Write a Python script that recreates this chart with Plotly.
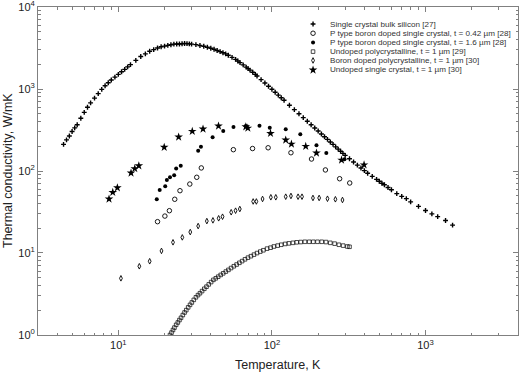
import plotly.graph_objects as go

# ---------------- data ----------------
# Single crystal bulk silicon [27]
si_T = [4.4, 4.6, 4.8, 5.0, 5.2, 5.4, 5.7, 6.0, 6.3, 6.6, 7.0, 7.4, 7.8, 8.2, 8.6, 9.0, 9.5,
        10, 10.5, 11, 11.5, 12, 13, 14, 15, 16, 17, 18, 19, 20, 21, 22, 23, 24, 25, 26, 27, 28, 29, 30,
        32, 34, 36, 38, 40, 42, 44, 46, 48, 50, 52, 55, 58, 60, 62, 65, 68, 70, 72, 75, 78, 80,
        85, 90, 95, 100, 105, 110, 115, 120, 130, 140, 150, 160, 170, 180, 190, 200, 210, 220,
        230, 240, 250, 260, 270, 280, 290, 300, 320, 340, 360, 380, 400, 420, 450, 480, 500, 520,
        540, 570, 600, 650, 700, 750, 800, 900, 1000, 1100, 1200, 1350, 1500]
si_k = [211, 240, 267, 303, 336, 366, 440, 519, 598, 678, 774, 879, 991, 1094, 1191, 1288, 1396,
        1507, 1622, 1738, 1862, 1982, 2234, 2489, 2685, 2891, 3027, 3162, 3273, 3334, 3404, 3459,
        3524, 3540, 3540, 3565, 3589, 3573, 3548, 3524, 3475, 3396, 3319, 3228, 3141, 3055, 2951,
        2858, 2773, 2679, 2576, 2432, 2296, 2193, 2099, 1972, 1849, 1774, 1702, 1600, 1507, 1442,
        1303, 1183, 1079, 993, 912, 843, 782, 728, 635, 561, 499, 448, 405, 367, 334, 307, 283, 262,
        243, 226, 211, 197, 185, 174, 164, 155, 141, 129, 118, 109, 101, 94, 86, 79, 75, 71, 68, 63,
        59, 53, 49, 46, 42, 37, 33, 30, 27.8, 24.9, 21.9]

# P type boron doped single crystal, t = 0.42 um [28]
p042_T = [18.0, 20.1, 21.5, 23.3, 25.2, 29.2, 32.4, 34.7, 56.1, 74.8, 94.5, 133, 181, 223, 276, 321]
p042_k = [24.1, 28.2, 32.8, 45.2, 57.5, 69.3, 83.8, 109, 182, 188, 192, 167, 140, 103, 80.5, 71.4]

# P type boron doped single crystal, t = 1.6 um [28]
p16_T = [17.8, 18.6, 20.2, 20.7, 21.7, 23.1, 23.8, 25.5, 33.1, 34.5, 41.1, 48.2, 56.2, 67.6, 83.0,
         96.8, 123, 153, 195, 226, 297]
p16_k = [45.2, 58.6, 65.0, 77.6, 83.8, 88.7, 107, 116, 177, 198, 258, 308, 344, 354, 357, 337, 323,
         281, 206, 166, 139]

# Undoped polycrystalline, t = 1 um [29]
upoly_T = [21.7, 22.2, 22.7, 23.2, 23.8, 24.4, 25.0, 25.6, 26.3, 27.0, 27.7, 28.5, 29.3, 30.1, 31.0,
           32.0, 33.0, 34.0, 35.1, 36.3, 37.5, 38.8, 40.2, 41.6, 43.1, 44.7, 46.4, 48.2, 50.1, 52.1,
           54.2, 56.5, 58.9, 61.4, 64.0, 66.8, 69.8, 73.0, 76.4, 80.0, 84, 88, 93, 98, 103, 109, 115,
           122, 129, 137, 145, 154, 164, 175, 186, 198, 211, 225, 240, 256, 273, 291, 310, 320]
upoly_k = [1.00, 1.07, 1.15, 1.23, 1.33, 1.42, 1.52, 1.62, 1.75, 1.88, 2.01, 2.17, 2.33, 2.49, 2.68,
           2.88, 3.06, 3.23, 3.43, 3.66, 3.88, 4.14, 4.42, 4.70, 4.91, 5.14, 5.40, 5.65, 5.93, 6.22,
           6.55, 6.89, 7.23, 7.59, 7.96, 8.37, 8.77, 9.14, 9.55, 9.98, 10.4, 10.8, 11.3, 11.6, 12.0,
           12.3, 12.6, 12.9, 13.1, 13.3, 13.5, 13.6, 13.7, 13.7, 13.7, 13.7, 13.7, 13.6, 13.3, 13.0,
           12.6, 12.3, 12.0, 11.9]

# Boron doped polycrystalline, t = 1 um [30]
bpoly_T = [10.4, 13.7, 16.0, 19.1, 22.7, 26.1, 29.4, 33.1, 37.7, 41.3, 45.0, 47.7, 54.3, 58.0, 61.8,
           75.5, 79.2, 86.9, 98.4, 106, 123, 133, 148, 157, 185, 203, 230, 259, 288]
bpoly_k = [4.91, 6.89, 7.93, 10.6, 13.5, 15.5, 18.0, 21.3, 24.5, 25.0, 26.5, 27.7, 31.4, 32.8, 34.4,
           42.5, 42.5, 45.6, 47.8, 47.8, 48.6, 49.6, 48.6, 48.6, 46.9, 46.9, 45.9, 45.2, 44.3]

# Undoped single crystal, t = 1 um [30]
usc_T = [8.7, 9.2, 9.86, 12.1, 12.8, 13.6, 19.9, 24.7, 30.3, 35.6, 44.9, 67.6, 69.7, 97.9, 123, 134,
         166, 195, 284, 398]
usc_k = [45.6, 54.9, 62.5, 94.6, 107, 116, 195, 260, 305, 325, 354, 347, 334, 288, 239, 213, 200,
         166, 136, 119]

labels = [
    "Single crystal bulk silicon [27]",
    "P type boron doped single crystal, t = 0.42 µm [28]",
    "P type boron doped single crystal, t = 1.6 µm [28]",
    "Undoped polycrystalline, t = 1 µm [29]",
    "Boron doped polycrystalline, t = 1 µm [30]",
    "Undoped single crystal, t = 1 µm [30]",
]
x_tick_vals = [10, 100, 1000]
x_tick_text = ["10<sup>1</sup>", "10<sup>2</sup>", "10<sup>3</sup>"]
y_tick_vals = [1, 10, 100, 1000, 10000]
y_tick_text = ["10<sup>0</sup>", "10<sup>1</sup>", "10<sup>2</sup>", "10<sup>3</sup>", "10<sup>4</sup>"]

# ---------------- styling ----------------
BLACK = "#000000"
markers = [
    dict(symbol="cross-thin-open", size=3.5, color=BLACK, line=dict(color=BLACK, width=1.4)),
    dict(symbol="circle-open", size=4.5, color=BLACK, line=dict(color=BLACK, width=0.9)),
    dict(symbol="circle", size=4, color=BLACK, line=dict(width=0)),
    dict(symbol="square-open", size=3.6, color=BLACK, line=dict(color=BLACK, width=0.7)),
    dict(symbol="diamond-tall-open", size=4, color=BLACK, line=dict(color=BLACK, width=0.9)),
    dict(symbol="star", size=6.5, color=BLACK, line=dict(width=0)),
]
series = [(si_T, si_k), (p042_T, p042_k), (p16_T, p16_k), (upoly_T, upoly_k),
          (bpoly_T, bpoly_k), (usc_T, usc_k)]

fig = go.Figure()
for (T, k), m in zip(series, markers):
    fig.add_trace(go.Scatter(x=T, y=k, mode="markers", marker=m, showlegend=False,
                             hoverinfo="skip", cliponaxis=True))

# hand-made compact legend (symbols on a hidden overlay axis in paper-like units)
leg_sym_x = 0.573
leg_txt_x = 0.604
leg_y = [0.948, 0.920, 0.892, 0.864, 0.837, 0.808]
for m, yy, lab in zip(markers, leg_y, labels):
    fig.add_trace(go.Scatter(x=[leg_sym_x], y=[yy], xaxis="x2", yaxis="y2", mode="markers",
                             marker=m, showlegend=False, hoverinfo="skip"))
    fig.add_annotation(x=leg_txt_x, y=yy, xref="paper", yref="paper", text=lab,
                       showarrow=False, xanchor="left", yanchor="middle",
                       font=dict(size=8.1, color="#333333"))

AX = "#808080"
minor_x = [m * 10 ** e for e in range(0, 4) for m in range(2, 10)]
minor_y = [m * 10 ** e for e in range(0, 4) for m in range(2, 10)]
common = dict(showgrid=False, zeroline=False, showline=True, linecolor=AX, linewidth=1,
              mirror="allticks", ticks="inside", ticklen=5, tickcolor=AX, tickwidth=1,
              automargin=False, ticklabeloverflow="allow",
              tickfont=dict(size=11, color="#222222"))

fig.update_layout(
    width=520, height=373,
    margin=dict(l=38, r=2, t=7, b=38, autoexpand=False),
    paper_bgcolor="white", plot_bgcolor="white",
    font=dict(family="Liberation Sans, Arial, sans-serif", color="#222222"),
    showlegend=False,
    xaxis=dict(type="log", range=[0.4771, 3.6021], tickmode="array", tickvals=x_tick_vals,
               ticktext=x_tick_text,
               minor=dict(ticks="inside", ticklen=2.5, tickcolor=AX, tickmode="array",
                          tickvals=minor_x, showgrid=False),
               **common),
    yaxis=dict(type="log", range=[-0.0003, 4.0003], tickmode="array", tickvals=y_tick_vals,
               ticktext=y_tick_text,
               minor=dict(ticks="inside", ticklen=2.5, tickcolor=AX, tickmode="array",
                          tickvals=minor_y, showgrid=False),
               **common),
    xaxis2=dict(overlaying="x", range=[0, 1], visible=False, fixedrange=True),
    yaxis2=dict(overlaying="y", range=[0, 1], visible=False, fixedrange=True),
)

fig.add_annotation(x=0.5, y=-0.0915, xref="paper", yref="paper", text="Temperature, K",
                   showarrow=False, xanchor="center", yanchor="middle",
                   font=dict(size=12.5, color="#222222"))
fig.add_annotation(x=-0.0625, y=0.5, xref="paper", yref="paper",
                   text="Thermal conductivity, W/mK", textangle=-90,
                   showarrow=False, xanchor="center", yanchor="middle",
                   font=dict(size=12.5, color="#222222"))

fig.write_html("out.html", config={"displayModeBar": False},
               post_script="document.body.style.margin='0';document.body.style.overflow='hidden';")
